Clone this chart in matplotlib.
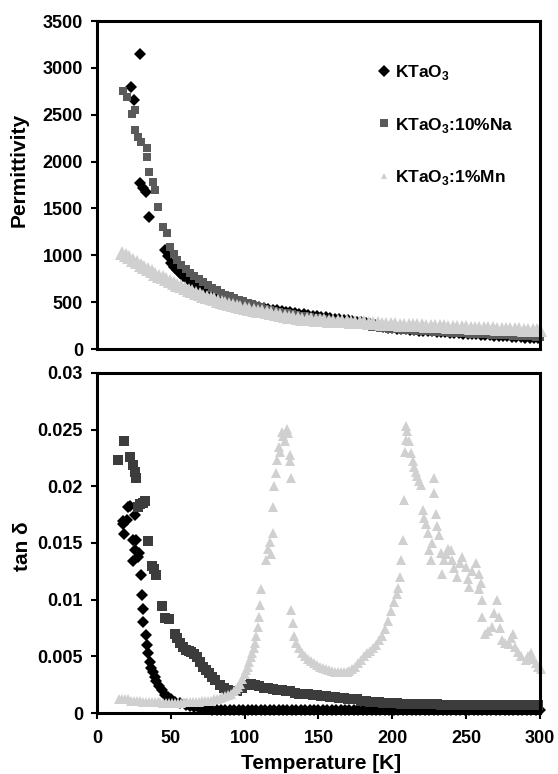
import matplotlib
matplotlib.use('Agg')
from matplotlib import pyplot as plt
from matplotlib.lines import Line2D

plt.rcParams['font.family'] = ['Liberation Sans', 'DejaVu Sans']
plt.rcParams['font.weight'] = 'bold'
plt.rcParams['mathtext.fontset'] = 'custom'
plt.rcParams['mathtext.rm'] = 'Liberation Sans:bold'
plt.rcParams['mathtext.bf'] = 'Liberation Sans:bold'

labels = ['KTaO$_\\mathbf{3}$', 'KTaO$_\\mathbf{3}$:10%Na', 'KTaO$_\\mathbf{3}$:1%Mn']
colors_top = ['#000000', '#5a5a5a', '#d0d0d0']
colors_bot = ['#000000', '#3c3c3c', '#d0d0d0']

# ---- permittivity (top panel) ----
t_k_eps = [23, 25, 29, 29, 31, 33, 35,
           46, 48, 50, 52, 54, 56, 58, 60, 62, 64, 66, 68, 70, 72, 74, 76, 78, 80,
           83, 86, 89, 92, 95, 98, 101, 104, 107, 110, 113, 116, 119, 122, 125, 128,
           131, 134, 137, 140, 143, 146, 149, 152, 155, 158, 161, 164, 167, 170, 173,
           176, 179, 182, 185, 188, 191, 194, 197, 200, 203, 206, 209, 212, 215, 218,
           221, 224, 227, 230, 233, 236, 239, 242, 245, 248, 251, 254, 257, 260, 263,
           266, 269, 272, 275, 278, 281, 284, 287, 290, 293, 296, 299]
eps_k = [2800, 2660, 3150, 1770, 1720, 1680, 1410,
         1060, 990, 920, 880, 845, 815, 785, 760, 740, 720, 702, 685, 668, 654, 640, 627, 614, 602,
         585, 570, 555, 538, 518, 500, 486, 472, 459, 448, 438, 430, 422, 414, 407, 400,
         393, 386, 379, 372, 365, 358, 351, 344, 337, 330, 323, 317, 311, 305, 300,
         294, 289, 280, 270, 258, 248, 238, 230, 222, 218, 214, 210, 206, 202, 198,
         195, 191, 188, 184, 181, 178, 175, 172, 168, 165, 162, 159, 156, 153, 150,
         147, 144, 141, 138, 135, 132, 129, 126, 123, 120, 117, 114]

t_na_eps = [17.4, 20, 23.5, 25.8, 25.8, 28, 30, 33.7, 33.7, 35.5, 38, 39.3, 41.6, 45, 47.3, 49.5,
            52, 54, 57, 60, 63, 66, 69, 72, 75, 78, 81, 84, 87, 90, 93, 96, 99, 102, 105,
            108, 111, 114, 117, 120, 123, 126, 129, 132, 135, 138, 141, 144, 147, 150, 153,
            156, 159, 162, 165, 168, 171, 174, 177, 180, 183, 186, 189, 192, 195, 198, 201,
            204, 207, 210, 213, 216, 219, 222, 225, 228, 231, 234, 237, 240, 243, 246, 249,
            252, 255, 258, 261, 264, 267, 270, 273, 276, 279, 282, 285, 288, 291, 294, 297, 300]
eps_na = [2756, 2692, 2505, 2550, 2336, 2260, 2212, 2144, 2050, 1892, 1785, 1697, 1518, 1305, 1234, 1092,
          1010, 950, 900, 855, 815, 780, 745, 715, 685, 655, 625, 600, 580, 562, 545, 528, 512, 495, 478,
          460, 445, 428, 412, 402, 395, 387, 380, 372, 364, 357, 350, 342, 335, 328, 320,
          312, 304, 296, 289, 282, 275, 268, 262, 255, 248, 240, 233, 226, 221, 216, 212,
          209, 206, 203, 200, 197, 194, 191, 188, 186, 183, 181, 178, 176, 173, 171, 168,
          166, 163, 161, 158, 156, 154, 152, 150, 148, 146, 144, 142, 140, 138, 136, 134, 132]

t_mn_eps = [17, 19.5, 22, 24.5, 27, 29.5, 32, 34.5, 37, 39.5, 42, 44.5, 47, 49.5, 52, 54.5, 57,
            59.5, 62, 64.5, 67, 69.5, 72, 74.5, 77, 79.5, 82, 84.5, 87, 89.5, 92, 94.5, 97, 100,
            103, 106, 109, 112, 115, 118, 121, 124, 127, 130, 133, 136, 139, 142, 145, 148, 151,
            154, 157, 160, 163, 166, 169, 172, 175, 178, 181, 184, 187, 190, 193, 196, 199, 202,
            205, 208, 211, 214, 217, 220, 223, 226, 229, 232, 235, 238, 241, 244, 247, 250, 253,
            256, 259, 262, 265, 268, 271, 274, 277, 280, 283, 286, 289, 292, 295, 298, 300]
eps_mn = [1030, 1005, 978, 952, 926, 900, 875, 852, 828, 806, 785, 764, 744, 724, 705, 686, 668,
          650, 633, 617, 601, 586, 571, 557, 543, 530, 518, 506, 494, 483, 472, 462, 452, 441,
          431, 421, 411, 401, 391, 381, 371, 362, 354, 346, 339, 332, 326, 321, 317, 313, 310,
          307, 304, 302, 300, 298, 296, 294, 291, 288, 285, 281, 277, 274, 271, 268, 266, 264,
          262, 260, 258, 256, 254, 252, 250, 248, 246, 244, 242, 240, 238, 236, 234, 232, 230,
          228, 226, 224, 222, 220, 218, 216, 215, 213, 211, 209, 207, 206, 204, 203, 202]

# ---- tan delta (bottom panel) ----
t_k_tan = [17.9, 18.2, 17.8, 20, 21.2, 22.3, 24.5, 24.5, 25.6, 25.6, 26.7, 27.6, 28.5,
           30.1, 30.8, 31.3, 31.5, 32.9, 33.9, 34.6, 35.6, 36.5, 37.6, 39, 40.3, 42, 43.7,
           46, 48, 50, 53, 56,
           60, 63, 66, 69, 72, 75, 78, 81, 84, 87, 90, 93, 96, 99, 102, 105, 108, 111, 114,
           117, 120, 123, 126, 129, 132, 135, 138, 141, 144, 147, 150, 153, 156, 159, 162,
           165, 168, 171, 174, 177, 180, 183, 186, 189, 192, 195, 198, 201, 204, 207, 210,
           213, 216, 219, 222, 225, 228, 231, 234, 237, 240, 243, 246, 249, 252, 255, 258,
           261, 264, 267, 270, 273, 276, 279, 282, 285, 288, 291, 294, 297, 300]
tan_k = [0.0167, 0.0158, 0.0169, 0.0170, 0.0182, 0.0183, 0.0153, 0.0134, 0.0175, 0.0144, 0.0153, 0.0138, 0.0141,
         0.0122, 0.0104, 0.0092, 0.0080, 0.0069, 0.0060, 0.0053, 0.0045, 0.0040, 0.0036, 0.0032, 0.0028, 0.0024, 0.0020,
         0.0016, 0.0014, 0.0012, 0.0010, 0.0009,
         0.0007, 0.0006, 0.0005, 0.00045, 0.0004, 0.00035, 0.0003, 0.0003, 0.0003, 0.0003, 0.0003, 0.0003,
         0.0003, 0.0003, 0.0003, 0.0003, 0.0003, 0.0003, 0.0003,
         0.0003, 0.0003, 0.0003, 0.0003, 0.0003, 0.0003, 0.0003, 0.0003, 0.0003, 0.0003, 0.0003, 0.0003,
         0.00025, 0.00025, 0.00025, 0.00025,
         0.00025, 0.00025, 0.00025, 0.00025, 0.00025, 0.00025, 0.00025, 0.00025, 0.00025, 0.00025, 0.00025,
         0.00025, 0.00025, 0.00025, 0.00025, 0.00025,
         0.00025, 0.00025, 0.00025, 0.00025, 0.00025, 0.00025, 0.00025, 0.00025, 0.00025, 0.00025, 0.00025,
         0.00025, 0.00025, 0.00025, 0.00025, 0.00025,
         0.00025, 0.00025, 0.00025, 0.00025, 0.00025, 0.00025, 0.00025, 0.00025, 0.00025, 0.00025, 0.00025,
         0.00025, 0.00025, 0.00025]

t_na_tan = [14.4, 18.5, 22.3, 24.7, 25.5, 26.3, 27.5, 29.3, 31, 32.6, 34.5, 37, 38.5, 40, 43.8, 46, 49,
            52.5, 54, 56, 58, 60, 62, 64, 66, 68, 70, 72, 74, 76, 78, 80, 83, 86, 89, 92, 95, 98,
            101, 104, 107,
            110, 113, 116, 119, 122, 125, 128, 131, 134, 137, 140, 143, 146, 149, 152, 155,
            158, 161, 164, 167, 170, 173, 176, 179, 182, 185, 188, 191, 194, 197, 200, 203,
            206, 209, 212, 215, 218, 221, 224, 227, 230, 233, 236, 239, 242, 245, 248, 251,
            254, 257, 260, 263, 266, 269, 272, 275, 278, 281, 284, 287, 290, 293, 296, 299]
tan_na = [0.0223, 0.0240, 0.0226, 0.0219, 0.0213, 0.0207, 0.0182, 0.0184, 0.0185, 0.0187, 0.0152, 0.0130, 0.0127,
          0.0122, 0.0094, 0.0084, 0.0083, 0.0070, 0.0066, 0.0062, 0.0058, 0.0056, 0.0055, 0.0054, 0.0052, 0.0049,
          0.0045, 0.0041, 0.0038, 0.0035, 0.0032, 0.0029, 0.0025, 0.0022, 0.0020, 0.0019, 0.0019, 0.0022,
          0.0025, 0.0026, 0.0025,
          0.0024, 0.0022, 0.0022, 0.0021, 0.0020, 0.0020, 0.0019, 0.0019, 0.0018, 0.0017, 0.0017, 0.0017,
          0.0016, 0.0016, 0.0015, 0.0015,
          0.0014, 0.0014, 0.0013, 0.0013, 0.0012, 0.0012, 0.0012, 0.0011, 0.0011, 0.0010, 0.0010, 0.0010,
          0.0009, 0.0009, 0.0009, 0.0009,
          0.0008, 0.0008, 0.0008, 0.0008, 0.0008, 0.0008, 0.0008, 0.0008, 0.0008, 0.0007, 0.0007, 0.0007,
          0.0007, 0.0007, 0.0007, 0.0007,
          0.0007, 0.0007, 0.0007, 0.0007, 0.0007, 0.0007, 0.0007, 0.0007, 0.0007, 0.0007, 0.0007, 0.0007,
          0.0007, 0.0007, 0.0007, 0.0007]

t_mn_tan = [15, 17, 19, 21, 23, 25, 27, 29, 31, 33, 35, 37, 39, 41, 43, 45, 47, 49, 51, 53, 55, 57,
            59, 61, 63, 65, 67, 69, 71, 73, 75, 77, 79, 81, 83, 85, 87, 89, 91,
            92.5, 94, 95.5, 97, 98.5, 100, 101, 102, 103, 104, 105, 106, 107, 108, 109, 110, 110.5, 111,
            114.7, 116, 117, 118, 119, 119, 120, 121, 122, 123, 124, 125, 126, 127, 128.5, 129.5,
            130.5, 131, 131.5, 131.5, 132.5,
            133.5, 135, 137, 139, 141, 143, 145, 147, 149, 151, 153, 155, 157, 159, 161, 163, 165,
            167, 169, 171, 173, 175, 177, 179, 181, 183, 185, 187, 189, 191, 193, 195, 197, 199,
            201, 203, 204,
            205, 206, 207, 207.6, 208.5, 209, 209.3, 210, 211, 212.5, 214, 215, 216, 217, 218,
            219.4, 220.5, 221.5, 222.8, 224, 225, 226, 227, 228, 228, 229.4, 230.5, 231.6, 232.7,
            233.8, 235, 236.5, 238, 239.5, 240.6, 242, 244, 246, 247.5, 249.6, 251, 252, 254,
            256.4, 258.6, 258.6, 260, 261, 261, 263, 265, 267.7, 269, 271, 272, 273, 274.4, 276,
            278.8, 280.5, 282, 283, 285, 287, 290.2, 292, 293.6, 295, 297, 299, 301]
tan_mn = [0.0012, 0.0012, 0.0012, 0.0012, 0.0011, 0.0011, 0.0011, 0.0011, 0.0010, 0.0010, 0.0010,
          0.0010, 0.0010, 0.0010, 0.0010, 0.0009, 0.0009, 0.0009, 0.0009, 0.0009, 0.0009, 0.0009,
          0.0010, 0.0010, 0.0010, 0.0010, 0.0010, 0.0010, 0.0011, 0.0011, 0.0011, 0.0011, 0.0012,
          0.0012, 0.0013, 0.0014, 0.0015, 0.0016, 0.0017,
          0.0019, 0.0021, 0.0023, 0.0026, 0.0030, 0.0034, 0.0038, 0.0041, 0.0045, 0.0049, 0.0053,
          0.0057, 0.0062, 0.0068, 0.0076, 0.0085, 0.0095, 0.0109,
          0.0135, 0.0145, 0.0151, 0.0140, 0.0159, 0.0182, 0.0200, 0.0212, 0.0223, 0.0235, 0.0230,
          0.0248, 0.0244, 0.0240, 0.0251, 0.0247,
          0.0228, 0.0222, 0.0207, 0.0091, 0.0079,
          0.0068, 0.0062, 0.0057, 0.0053, 0.0050, 0.0048, 0.0046, 0.0044, 0.0042, 0.0041, 0.0040,
          0.0039, 0.0038, 0.0037, 0.0036, 0.0036, 0.0036,
          0.0036, 0.0036, 0.0037, 0.0039, 0.0041, 0.0044, 0.0047, 0.0050, 0.0053, 0.0055, 0.0057,
          0.0060, 0.0064, 0.0068, 0.0074, 0.0081, 0.0090,
          0.0098, 0.0105, 0.0110,
          0.0120, 0.0135, 0.0153, 0.0188, 0.0230, 0.0241, 0.0253, 0.0249, 0.0240, 0.0229, 0.0222, 0.0217,
          0.0213, 0.0209, 0.0205,
          0.0201, 0.0179, 0.0172, 0.0167, 0.0159, 0.0144, 0.0135, 0.0150, 0.0207, 0.0194, 0.0176, 0.0165,
          0.0157, 0.0141,
          0.0123, 0.0135, 0.0140, 0.0145, 0.0144, 0.0135, 0.0128, 0.0120, 0.0132, 0.0138, 0.0129, 0.0118,
          0.0111, 0.0125,
          0.0132, 0.0123, 0.0109, 0.0115, 0.0100, 0.0085, 0.0070, 0.0072, 0.0076, 0.0088, 0.0100, 0.0085,
          0.0075, 0.0064, 0.0062,
          0.0061, 0.0066, 0.0070, 0.0058, 0.0054, 0.0050, 0.0047, 0.0050, 0.0053, 0.0048, 0.0044, 0.0041, 0.0039]

eps_ticks = [0, 500, 1000, 1500, 2000, 2500, 3000, 3500]
tan_ticks = [0, 0.005, 0.01, 0.015, 0.02, 0.025, 0.03]
tan_tick_labels = ['0', '0.005', '0.01', '0.015', '0.02', '0.025', '0.03']
t_ticks = [0, 50, 100, 150, 200, 250, 300]

fig = plt.figure(figsize=(5.58, 7.74), dpi=100)
ax1 = fig.add_axes([0.1738, 0.549, 0.7939, 0.4238])
ax2 = fig.add_axes([0.1738, 0.0788, 0.7939, 0.4393])

# top panel
ax1.plot(t_k_eps, eps_k, 'D', color=colors_top[0], ms=6, mew=0, clip_on=False)
ax1.plot(t_na_eps, eps_na, 's', color=colors_top[1], ms=6, mew=0, clip_on=False)
ax1.plot(t_mn_eps, eps_mn, '^', color=colors_top[2], ms=10, mew=0, clip_on=False)
ax1.set_xlim(0, 300)
ax1.set_ylim(0, 3500)
ax1.set_yticks(eps_ticks)
ax1.set_ylabel('Permittivity', fontsize=15, fontweight='bold')
ax1.yaxis.set_label_coords(-0.155, 0.546)
ax1.tick_params(axis='x', bottom=False, labelbottom=False)

handles = [Line2D([], [], ls='none', marker='D', ms=6, mew=0, color=colors_top[0]),
           Line2D([], [], ls='none', marker='s', ms=5.5, mew=0, color=colors_top[1]),
           Line2D([], [], ls='none', marker='^', ms=5, mew=0, color=colors_top[2])]
ax1.legend(handles, labels, loc='upper left', bbox_to_anchor=(0.632, 0.873), frameon=False,
           fontsize=12.5, labelspacing=1.95, handlelength=0.8, handletextpad=0.25,
           borderpad=0, borderaxespad=0)

# bottom panel
ax2.plot(t_k_tan, tan_k, 'D', color=colors_bot[0], ms=6.5, mew=0, clip_on=False)
ax2.plot(t_na_tan, tan_na, 's', color=colors_bot[1], ms=6.5, mew=0, clip_on=False)
ax2.plot(t_mn_tan, tan_mn, '^', color=colors_bot[2], ms=6.5, mew=0, clip_on=False)
ax2.set_xlim(0, 300)
ax2.set_ylim(0, 0.03)
ax2.set_yticks(tan_ticks)
ax2.set_yticklabels(tan_tick_labels)
ax2.set_xticks(t_ticks)
ax2.set_ylabel('tan δ', fontsize=15, fontweight='bold')
ax2.yaxis.set_label_coords(-0.147, 0.49)
ax2.set_xlabel('Temperature [K]', fontsize=15, fontweight='bold')
ax2.xaxis.set_label_coords(0.505, -0.12)
ax2.tick_params(axis='x', direction='out', length=4, width=1.5, pad=8, labelsize=13)

for ax in (ax1, ax2):
    ax.tick_params(axis='y', direction='out', length=4, width=1.5, pad=6, labelsize=13)
    for sp in ax.spines.values():
        sp.set_linewidth(2.2)
    for lab in ax.get_xticklabels() + ax.get_yticklabels():
        lab.set_fontweight('bold')

fig.savefig('out.png', dpi=100)
